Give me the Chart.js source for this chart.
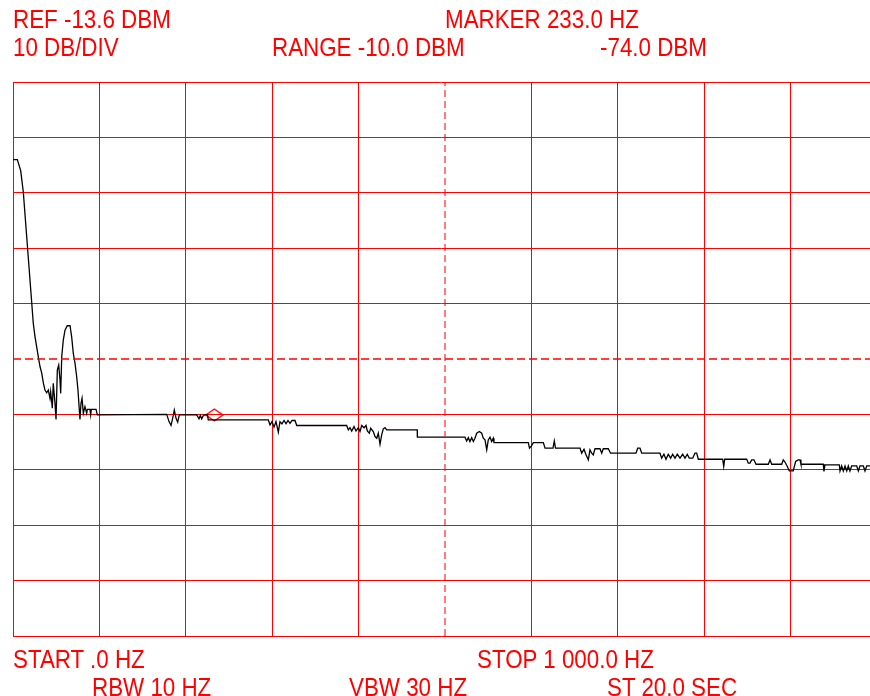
<!DOCTYPE html>
<html>
<head>
<meta charset="utf-8">
<script src="https://cdn.jsdelivr.net/npm/chart.js@4.4.1/dist/chart.umd.min.js"></script>
<style>
    html, body { margin: 0; padding: 0; background: #fff; overflow: hidden; }
    #wrap { position: relative; width: 870px; height: 696px; }
    canvas { position: absolute; left: 0; top: 0; }
    .lbl {
        position: absolute;
        font-family: "Liberation Sans", Arial, sans-serif;
        font-size: 26px;
        line-height: 26px;
        color: #ff0000;
        white-space: nowrap;
        transform: scaleX(0.86);
        transform-origin: left top;
    }
</style>
</head>
<body>
<div id="wrap">
    <canvas id="spectrum" width="870" height="696"></canvas>
    <div class="lbl" style="left:13px; top:6px">REF -13.6 DBM</div>
    <div class="lbl" style="left:445px; top:6px">MARKER 233.0 HZ</div>
    <div class="lbl" style="left:13px; top:34px">10 DB/DIV</div>
    <div class="lbl" style="left:272px; top:34px">RANGE -10.0 DBM</div>
    <div class="lbl" style="left:600px; top:34px">-74.0 DBM</div>
    <div class="lbl" style="left:13px; top:646px">START .0 HZ</div>
    <div class="lbl" style="left:477px; top:646px">STOP 1 000.0 HZ</div>
    <div class="lbl" style="left:92px; top:674px">RBW 10 HZ</div>
    <div class="lbl" style="left:349px; top:674px">VBW 30 HZ</div>
    <div class="lbl" style="left:607px; top:674px">ST 20.0 SEC</div>
</div>
<script>
// trace, frequency in Hz, level in dBm
const freqHz = [
    0, 5.0, 8.9, 11.9, 23.5, 25.5, 27.4, 29.3, 31.3, 33.2,
    35.1, 37.0, 39.0, 40.9, 42.8, 43.6, 45.5, 46.6, 48.6, 49.8,
    51.3, 52.9, 54.4, 55.2, 56.4, 58.2, 60.2, 62.8, 66.0, 67.9,
    69.8, 71.8, 73.7, 75.2, 77.5, 78.7, 79.9, 81.4, 83.3, 85.3,
    86.0, 89.1, 89.9, 90.6, 96.1, 97.6, 177.9, 180.6, 182.9, 184.8,
    186.7, 188.7, 190.6, 192.5, 212.6, 215.3, 216.8, 218.4, 220.3, 222.2,
    225.1, 226.0, 295.5, 297.5, 299.8, 302.1, 304.4, 307.1, 309.0, 311.3,
    313.7, 316.0, 318.3, 320.6, 322.9, 326.4, 328.4, 386.2, 388.1, 390.0,
    392.0, 394.7, 397.0, 399.7, 401.6, 403.6, 406.3, 408.6, 410.1, 412.4,
    414.0, 417.0, 419.0, 421.0, 422.8, 424.8, 426.7, 428.6, 430.6, 432.5,
    467.9, 468.0, 523.1, 525.1, 527.0, 528.9, 530.9, 532.8, 534.7, 536.7,
    539.7, 542.5, 544.3, 546.3, 548.3, 550.1, 552.1, 554.0, 555.9, 556.7,
    596.4, 597.8, 600.1, 602.2, 613.8, 615.8, 625.0, 626.5, 627.9, 656.3,
    658.2, 660.9, 663.2, 665.9, 667.8, 669.8, 671.6, 673.6, 679.4, 681.4,
    683.2, 689.0, 691.6, 721.1, 723.0, 725.7, 727.7, 748.8, 750.8, 753.4,
    755.8, 758.4, 761.2, 763.5, 766.2, 768.9, 772.0, 775.1, 777.8, 780.4,
    782.7, 786.7, 789.3, 791.3, 793.2, 821.4, 822.6, 823.7, 849.2, 851.0,
    853.0, 855.0, 857.6, 860.0, 874.2, 876.2, 878.1, 889.7, 891.5, 893.5,
    896.2, 898.5, 903.1, 905.8, 908.9, 910.9, 912.0, 937.8, 938.6, 939.8,
    956.4, 957.2, 959.1, 961.0, 963.0, 965.0, 966.8, 968.7, 970.7, 976.5,
    978.4, 980.3, 984.2, 986.1, 988.1, 991.9
];
const levelDbm = [
    -27.6, -27.6, -29.6, -33.4, -57.2, -59.6, -61.4, -63.2, -65.0, -66.1,
    -67.9, -69.2, -69.7, -69.2, -70.7, -69.5, -72.5, -68.0, -71.6, -74.5,
    -65.6, -64.7, -67.4, -69.8, -63.2, -60.2, -58.4, -57.6, -57.6, -59.6,
    -62.6, -64.4, -66.8, -69.2, -74.5, -71.6, -70.7, -73.4, -72.2, -73.4,
    -72.7, -72.7, -73.7, -72.7, -72.7, -73.7, -73.6, -74.9, -75.6, -74.3,
    -72.8, -74.3, -75.0, -73.7, -73.7, -74.4, -73.8, -74.4, -73.8, -73.7,
    -73.7, -74.6, -74.6, -75.5, -74.9, -75.9, -74.9, -76.8, -74.9, -75.3,
    -74.7, -75.3, -74.7, -75.2, -74.7, -74.7, -75.6, -75.6, -76.4, -76.0,
    -76.6, -75.8, -76.6, -76.0, -76.7, -75.6, -76.0, -75.6, -76.6, -77.0,
    -76.1, -76.7, -77.6, -77.9, -77.0, -79.0, -77.3, -76.2, -76.0, -76.4,
    -76.4, -77.7, -77.7, -78.4, -77.8, -78.5, -77.8, -78.5, -77.9, -77.0,
    -76.7, -77.0, -77.9, -78.2, -80.0, -78.2, -77.7, -78.5, -77.9, -78.7,
    -78.7, -79.7, -79.3, -78.7, -78.7, -79.7, -79.7, -78.4, -79.7, -79.7,
    -80.6, -79.9, -80.9, -81.8, -80.0, -80.6, -80.9, -79.8, -79.8, -80.6,
    -79.8, -79.8, -80.6, -80.6, -79.7, -79.7, -80.6, -80.6, -81.5, -80.8,
    -81.7, -80.8, -81.5, -80.8, -81.5, -80.8, -81.5, -80.8, -81.5, -80.8,
    -81.5, -81.5, -80.6, -80.6, -81.7, -81.7, -83.0, -81.7, -81.7, -82.4,
    -82.4, -81.8, -81.8, -82.6, -82.6, -81.8, -82.6, -82.6, -81.8, -82.2,
    -83.0, -83.8, -83.8, -82.1, -81.8, -81.8, -82.6, -82.6, -83.9, -82.7,
    -82.7, -83.8, -82.9, -83.8, -82.9, -83.8, -82.9, -83.8, -82.9, -82.9,
    -83.8, -82.9, -82.9, -83.8, -82.9, -82.9
];

// grid divisions: 100 Hz and 10 dB per division, ref level at the top
const freqTicks = [0, 100, 200, 300, 400, 500, 600, 700, 800, 900];
const levelTicks = [-113.6, -103.6, -93.6, -83.6, -73.6, -63.6, -53.6, -43.6, -33.6, -23.6, -13.6];
const centerHz = 500;
const displayLineDbm = -63.6;
const markerHz = 233.0;
const markerDbm = -73.7;

const RED = "#ff0000";

// flat diamond for the marker
function diamondIcon() {
    const c = document.createElement("canvas");
    c.width = 19;
    c.height = 14;
    const g = c.getContext("2d");
    g.strokeStyle = RED;
    g.lineWidth = 1.4;
    g.beginPath();
    g.moveTo(1, 7);
    g.lineTo(9.5, 1);
    g.lineTo(18, 7);
    g.lineTo(9.5, 13);
    g.closePath();
    g.stroke();
    return c;
}

const trace = freqHz.map((f, i) => ({ x: f, y: levelDbm[i] }));

const ctx = document.getElementById("spectrum").getContext("2d");

new Chart(ctx, {
    type: "scatter",
    data: {
        datasets: [
            {
                data: [{ x: centerHz, y: levelTicks[0] }, { x: centerHz, y: levelTicks[levelTicks.length - 1] }],
                showLine: true,
                borderColor: "rgba(255, 0, 0, 0.85)",
                borderWidth: 1.2,
                borderDash: [7, 4],
                pointRadius: 0,
            },
            {
                data: [{ x: 0, y: displayLineDbm }, { x: 1000, y: displayLineDbm }],
                showLine: true,
                borderColor: RED,
                borderWidth: 1.3,
                borderDash: [8, 4],
                pointRadius: 0,
            },
            {
                data: trace,
                showLine: true,
                borderColor: "#000000",
                borderWidth: 1.3,
                pointRadius: 0,
                tension: 0,
            },
            {
                data: [{ x: markerHz, y: markerDbm }],
                pointStyle: diamondIcon(),
                pointRadius: 8,
            },
        ],
    },
    options: {
        responsive: false,
        animation: false,
        layout: {
            autoPadding: false,
            padding: { left: 13, top: 82, right: 0, bottom: 60 },
        },
        plugins: {
            legend: { display: false },
            tooltip: { enabled: false },
        },
        scales: {
            x: {
                type: "linear",
                min: 0,
                max: 991.9,
                afterBuildTicks: (axis) => {
                    axis.ticks = freqTicks.map((v) => ({ value: v }));
                },
                ticks: { display: false },
                border: { display: false },
                grid: {
                    drawTicks: false,
                    lineWidth: 1,
                    color: (c) => (c.tick && c.tick.value === centerHz ? "rgba(0,0,0,0)" : RED),
                },
            },
            y: {
                type: "linear",
                min: levelTicks[0],
                max: levelTicks[levelTicks.length - 1],
                afterBuildTicks: (axis) => {
                    axis.ticks = levelTicks.map((v) => ({ value: v }));
                },
                ticks: { display: false },
                border: { display: false },
                grid: {
                    drawTicks: false,
                    lineWidth: 1,
                    color: (c) =>
                        c.tick && Math.abs(c.tick.value - displayLineDbm) < 0.01 ? "rgba(0,0,0,0)" : RED,
                },
            },
        },
    },
});
</script>
</body>
</html>
